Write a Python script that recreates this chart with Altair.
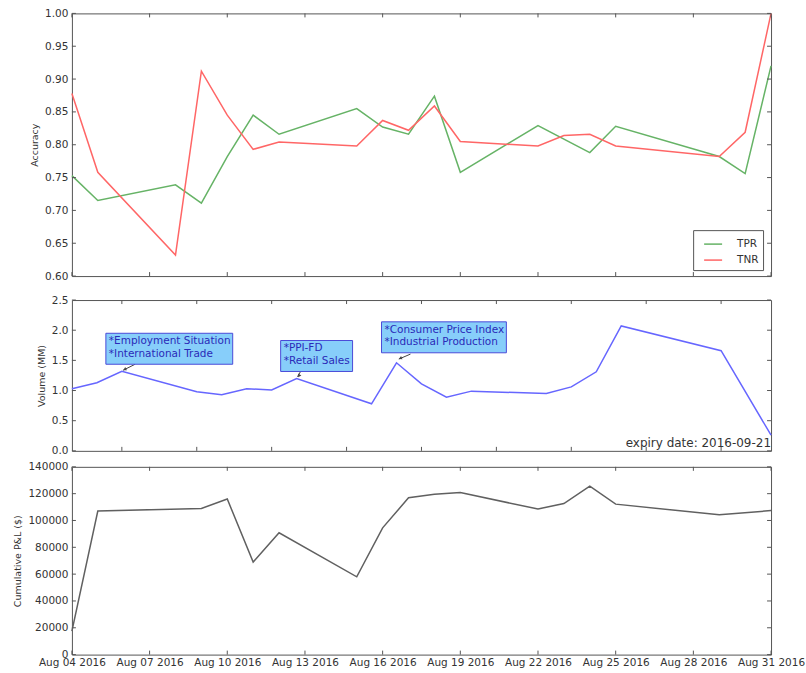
import altair as alt
import pandas as pd

# ---------------- data ----------------
acc_dates = ["2016-08-04", "2016-08-05", "2016-08-08", "2016-08-09", "2016-08-10",
             "2016-08-11", "2016-08-12", "2016-08-15", "2016-08-16", "2016-08-17",
             "2016-08-18", "2016-08-19", "2016-08-22", "2016-08-23", "2016-08-24",
             "2016-08-25", "2016-08-29", "2016-08-30", "2016-08-31"]
tpr = [0.753, 0.715, 0.739, 0.711, 0.782, 0.845, 0.816, 0.855, 0.827, 0.816,
       0.874, 0.758, 0.829, None, 0.788, 0.828, 0.782, 0.756, 0.920]
tnr = [0.878, 0.758, 0.632, 0.912, 0.845, 0.793, 0.804, 0.798, 0.837, 0.822,
       0.859, 0.805, 0.798, 0.814, 0.816, 0.798, 0.782, 0.819, 1.000]

vol_dates = ["2016-08-03", "2016-08-04", "2016-08-05", "2016-08-08", "2016-08-09",
             "2016-08-10", "2016-08-11", "2016-08-12", "2016-08-15", "2016-08-16",
             "2016-08-17", "2016-08-18", "2016-08-19", "2016-08-22", "2016-08-23",
             "2016-08-24", "2016-08-25", "2016-08-29", "2016-08-31"]
volume = [1.03, 1.13, 1.32, 0.98, 0.93, 1.03, 1.01, 1.20, 0.78, 1.46,
          1.11, 0.89, 0.99, 0.95, 1.06, 1.31, 2.07, 1.66, 0.26]

pnl_dates = ["2016-08-04", "2016-08-05", "2016-08-09", "2016-08-10", "2016-08-11",
             "2016-08-12", "2016-08-15", "2016-08-16", "2016-08-17", "2016-08-18",
             "2016-08-19", "2016-08-22", "2016-08-23", "2016-08-24", "2016-08-25",
             "2016-08-29", "2016-08-31"]
pnl = [17500, 107000, 109000, 116000, 69000, 90800, 58000, 94500, 116900, 119500,
       120800, 108500, 112600, 125600, 112200, 104200, 107400]

event_dates = ["2016-08-05", "2016-08-12", "2016-08-16"]
event_labels = ["*Employment Situation\n*International Trade",
                "*PPI-FD\n*Retail Sales",
                "*Consumer Price Index\n*Industrial Production"]
expiry_label = "expiry date: 2016-09-21"

acc_ticks = [0.60, 0.65, 0.70, 0.75, 0.80, 0.85, 0.90, 0.95, 1.00]
vol_ticks = [0.0, 0.5, 1.0, 1.5, 2.0, 2.5]
pnl_ticks = [0, 20000, 40000, 60000, 80000, 100000, 120000, 140000]
date_ticks = ["2016-08-04", "2016-08-07", "2016-08-10", "2016-08-13", "2016-08-16",
              "2016-08-19", "2016-08-22", "2016-08-25", "2016-08-28", "2016-08-31"]
vol_date_ticks = ["2016-08-05", "2016-08-08", "2016-08-11", "2016-08-14", "2016-08-17",
                  "2016-08-20", "2016-08-23", "2016-08-26", "2016-08-29"]

# ---------------- styling ----------------
W = 700
H_TOP, H_MID, H_BOT = 263, 151, 188
FRAME = "#555555"
TEXT = "#333333"
GREEN, RED, BLUE, GREY = "#66b366", "#ff6666", "#6666ff", "#606060"
BOX_FILL, BOX_EDGE, BOX_TEXT, ARROW = "#87cefa", "#4a4ad8", "#2a2ab8", "#444444"
TICK = 4
FONT = "DejaVu Sans"

# annotation box layout, pixels relative to the annotated point:
# (left, top, width, height), arrow (tip dx, tip dy, tail dx, tail dy), head angle
box_layout = [
    ((-16, -38, 127, 31), (1.3, -1.0, 13.3, -7.0), 243),
    ((-16, -38, 72, 31), (0.8, -1.7, 3.8, -6.7), 211),
    ((-15, -41, 125, 31), (2.3, -3.7, 14.0, -8.7), 247),
]


def ms(s):
    return int(pd.Timestamp(s, tz="UTC").value // 10**6)


x_full = alt.Scale(type="utc", domain=[ms(date_ticks[0]), ms(date_ticks[-1])])
x_vol = alt.Scale(type="utc", domain=[ms(vol_dates[0]), ms(vol_dates[-1])])
acc_scale = alt.Scale(domain=[0.6, 1.0], zero=False, nice=False)
vol_scale = alt.Scale(domain=[0, 2.5], zero=False, nice=False)
pnl_scale = alt.Scale(domain=[0, 140000], zero=False, nice=False)


def frame_ticks(xenc, yenc, xfield, yfield, xticks, yticks, h):
    """Inward tick marks on all four sides of a panel (same encodings as the panel)."""
    xt = pd.DataFrame({xfield: xticks})
    yt = pd.DataFrame({yfield: yticks})
    rule = dict(color=FRAME, strokeWidth=1)
    return [
        alt.Chart(xt).mark_rule(**rule).encode(x=xenc, y=alt.value(0), y2=alt.value(TICK)),
        alt.Chart(xt).mark_rule(**rule).encode(x=xenc, y=alt.value(h - TICK), y2=alt.value(h)),
        alt.Chart(yt).mark_rule(**rule).encode(y=yenc, x=alt.value(0), x2=alt.value(TICK)),
        alt.Chart(yt).mark_rule(**rule).encode(y=yenc, x=alt.value(W - TICK), x2=alt.value(W)),
    ]


hidden_x = dict(title=None, labels=False, ticks=False, domain=False)

# ---------------- accuracy panel ----------------
tpr_df = pd.DataFrame({"date": acc_dates, "value": tpr, "series": "TPR"}).dropna()
tnr_df = pd.DataFrame({"date": acc_dates, "value": tnr, "series": "TNR"})
color = alt.Color(
    "series:N",
    scale=alt.Scale(domain=["TPR", "TNR"], range=[GREEN, RED]),
    legend=alt.Legend(
        title=None, orient="none", legendX=622, legendY=217, direction="vertical",
        symbolType="stroke", symbolSize=324, symbolStrokeWidth=1.5, symbolOffset=6,
        labelOffset=14, labelFontSize=10.5, labelColor=TEXT, labelFont=FONT,
        padding=4, rowPadding=0, strokeColor=FRAME, fillColor="white", cornerRadius=0,
    ),
)
acc_x = alt.X("date:T", scale=x_full,
              axis=alt.Axis(**hidden_x, minExtent=13, maxExtent=13))
acc_y = alt.Y("value:Q", scale=acc_scale,
              axis=alt.Axis(title="Accuracy", values=acc_ticks, format=".2f"))
tpr_line = alt.Chart(tpr_df).mark_line(strokeWidth=1.5).encode(x=acc_x, y=acc_y, color=color)
tnr_line = alt.Chart(tnr_df).mark_line(strokeWidth=1.5).encode(x=acc_x, y=acc_y, color=color)
top = alt.layer(
    tpr_line, tnr_line,
    *frame_ticks(acc_x, acc_y, "date", "value", date_ticks, acc_ticks, H_TOP),
).properties(width=W, height=H_TOP)

# ---------------- volume panel ----------------
vol_df = pd.DataFrame({"date": vol_dates, "volume": volume})
vol_lookup = dict(zip(vol_dates, volume))
vol_x = alt.X("date:T", scale=x_vol, axis=alt.Axis(**hidden_x))
vol_y = alt.Y("volume:Q", scale=vol_scale,
              axis=alt.Axis(title="Volume (MM)", values=vol_ticks, format=".1f"))
vol_line = alt.Chart(vol_df).mark_line(color=BLUE, strokeWidth=1.5).encode(x=vol_x, y=vol_y)

mid_layers = [vol_line]
for d, label, (box, arrow, angle) in zip(event_dates, event_labels, box_layout):
    ev = alt.Chart(pd.DataFrame({"date": [d], "volume": [vol_lookup[d]], "label": [label]}))
    bx, by, bw, bh = box
    tx, ty, sx, sy = arrow
    enc = dict(x=vol_x, y=vol_y)
    mid_layers += [
        ev.mark_rule(color=ARROW, strokeWidth=1, xOffset=tx, yOffset=ty,
                     x2Offset=sx, y2Offset=sy).encode(**enc, x2="date:T", y2="volume:Q"),
        ev.mark_point(shape="triangle-up", filled=True, size=14, opacity=1, color=ARROW,
                      angle=angle, xOffset=tx + 1.5, yOffset=ty - 0.8).encode(**enc),
        ev.mark_rect(fill=BOX_FILL, stroke=BOX_EDGE, strokeWidth=1, xOffset=bx,
                     x2Offset=bx + bw, yOffset=by, y2Offset=by + bh
                     ).encode(**enc, x2="date:T", y2="volume:Q"),
        ev.mark_text(align="left", baseline="top", dx=bx + 3, dy=by + 3, lineBreak="\n",
                     lineHeight=12.5, fontSize=10.5, font=FONT, color=BOX_TEXT
                     ).encode(**enc, text="label:N"),
    ]

expiry = alt.Chart(pd.DataFrame({"t": [expiry_label]})).mark_text(
    align="right", baseline="alphabetic", dy=-3.5, fontSize=12, font=FONT, color=TEXT
).encode(x=alt.value(W), y=alt.value(H_MID), text="t:N")

mid = alt.layer(
    *mid_layers,
    *frame_ticks(vol_x, vol_y, "date", "volume", vol_date_ticks, vol_ticks, H_MID),
    expiry,
).properties(width=W, height=H_MID)

# ---------------- cumulative P&L panel ----------------
pnl_df = pd.DataFrame({"date": pnl_dates, "pnl": pnl})
pnl_x = alt.X("date:T", scale=x_full,
              axis=alt.Axis(title=None, values=[ms(t) for t in date_ticks], format="%b %d %Y",
                            labelOverlap=False, labelBound=False, labelFlush=False,
                            labelPadding=3))
pnl_y = alt.Y("pnl:Q", scale=pnl_scale,
              axis=alt.Axis(title="Cumulative P&L ($)", values=pnl_ticks, format="d"))
pnl_line = alt.Chart(pnl_df).mark_line(color=GREY, strokeWidth=1.5).encode(x=pnl_x, y=pnl_y)
bot = alt.layer(
    pnl_line,
    *frame_ticks(pnl_x, pnl_y, "date", "pnl", date_ticks, pnl_ticks, H_BOT),
).properties(width=W, height=H_BOT)

chart = alt.vconcat(top, mid, bot, spacing=4).properties(
    padding={"left": 12, "top": 7, "right": 0, "bottom": 0},
    background="white",
).configure_axis(
    labelFont=FONT, titleFont=FONT, labelFontSize=10.5, titleFontSize=9.5,
    titleFontWeight="normal", labelColor=TEXT, titleColor=TEXT, grid=False,
    ticks=False, domain=False, labelPadding=4, titlePadding=5,
).configure_view(stroke=FRAME, strokeWidth=1)

chart.save("out.html", embed_options={"renderer": "svg", "actions": False})
